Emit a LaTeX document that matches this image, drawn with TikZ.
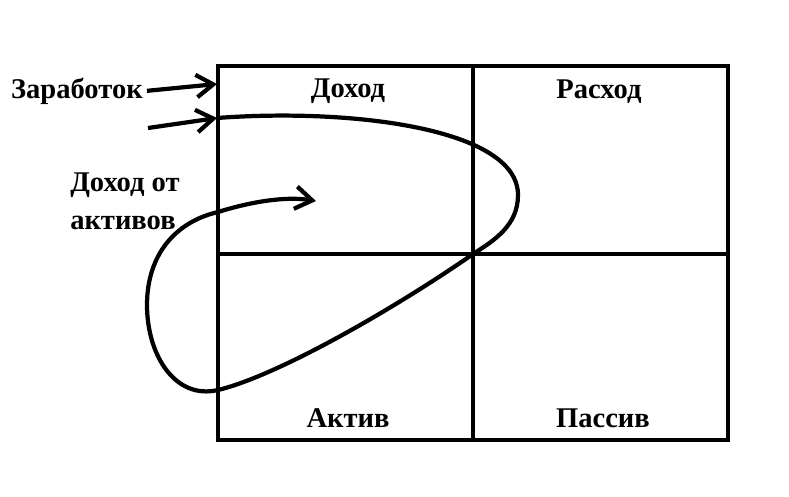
\documentclass[tikz,border=0pt]{standalone}
\usepackage{fontspec}
\setmainfont{Liberation Serif}
\usetikzlibrary{arrows.meta,positioning}

\begin{document}
\begin{tikzpicture}[x=0.025cm, y=-0.025cm,
    cell/.style={font=\fontsize{20.3}{25.5}\selectfont\bfseries, anchor=base, inner sep=0pt},
    frame/.style={line width=3.2pt},
    flow/.style={line width=3pt, -{Straight Barb[length=12pt,width=16pt,line width=3pt]}}]
    \useasboundingbox (0,0) rectangle (789,496);

    % table of four cells
    \coordinate (tl) at (218,66);
    \coordinate (br) at (728,440);
    \coordinate (mid) at (473,254);
    \draw[frame] (tl) rectangle (br);
    \draw[frame] (mid |- tl) -- (mid |- br);
    \draw[frame] (mid -| tl) -- (mid -| br);

    \foreach \x/\y/\lbl/\txt in {348/97/inc/Доход, 599/98/exp/Расход, 348/427/ast/Актив, 603/427/lia/Пассив}
        \node[cell] (\lbl) at (\x,\y) {\txt};

    \node[cell, anchor=base east] (earn) at (143,98) {Заработок};
    \node[cell, anchor=base west, align=left] (passive) at (70,229) {Доход от\\[1pt]активов};

    % incoming flows
    \coordinate (in1) at (217,84);
    \coordinate (in2) at (217,118);
    \coordinate (from2) at (148,128);
    \coordinate (tip) at (316,201);
    \draw[flow] ([xshift=0.1cm]earn.east) -- (in1);
    \draw[flow] (from2) -- (in2);

    % loop through the assets
    \draw[flow] (in2) .. controls (350,108) and (518,128) .. (518,195)
        .. controls (518,225) and (495,240) .. (mid)
        .. controls (400,305) and (280,375) .. (218,390)
        .. controls (175,400) and (147,355) .. (147,305)
        .. controls (147,255) and (175,222) .. (218,212)
        .. controls (250,202) and (285,196) .. (tip);
\end{tikzpicture}
\end{document}
